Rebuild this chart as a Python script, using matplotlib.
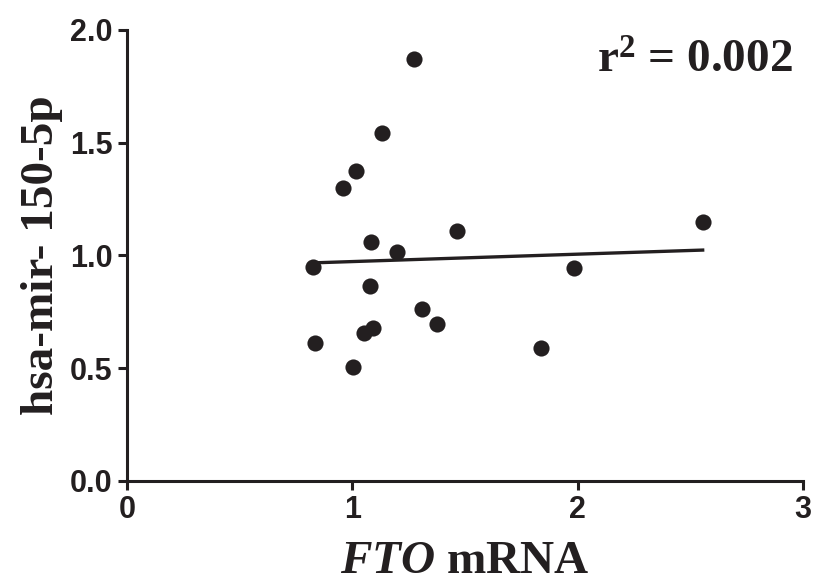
import numpy as np
import matplotlib
matplotlib.use("Agg")
import matplotlib.pyplot as plt

# FTO mRNA (x) vs hsa-mir-150-5p (y)
fto = [1.274, 1.133, 1.015, 0.957, 1.463, 1.083, 1.200, 0.827, 1.079,
       1.311, 1.376, 1.091, 1.052, 0.836, 1.004, 2.555, 1.985, 1.839]
mir150 = [1.871, 1.542, 1.372, 1.298, 1.106, 1.061, 1.014, 0.948, 0.862,
          0.763, 0.695, 0.680, 0.655, 0.613, 0.507, 1.147, 0.946, 0.590]
x_ticks = [0, 1, 2, 3]
y_ticks = [0.0, 0.5, 1.0, 1.5, 2.0]
r2_label = r"r$^{\mathbf{2}}$ = 0.002"

col = "#231f20"

plt.rcParams["mathtext.fontset"] = "custom"
plt.rcParams["mathtext.bf"] = "Liberation Serif:weight=bold"
plt.rcParams["mathtext.rm"] = "Liberation Serif:weight=bold"
plt.rcParams["mathtext.it"] = "Liberation Serif:style=italic:weight=bold"

fig = plt.figure(figsize=(8.16, 5.85), dpi=100)
ax = fig.add_axes([0.1556, 0.178, 0.8284, 0.771])

x = np.array(fto)
y = np.array(mir150)
ax.scatter(x, y, s=135, color=col, zorder=3, linewidths=0)

# linear regression line over the data range
slope, icpt = np.polyfit(x, y, 1)
xl = np.array([x.min(), x.max()])
ax.plot(xl, slope * xl + icpt, color=col, lw=2.4, zorder=2)

ax.set_xlim(0, 3)
ax.set_ylim(0, 2)
ax.set_xticks(x_ticks)
ax.set_yticks(y_ticks)
ax.set_xticklabels([str(t) for t in x_ticks])
ax.set_yticklabels(["%.1f" % t for t in y_ticks])

for s in ["top", "right"]:
    ax.spines[s].set_visible(False)
for s in ["left", "bottom"]:
    ax.spines[s].set_linewidth(2.2)
    ax.spines[s].set_color(col)
ax.tick_params(direction="out", length=6.5, width=2.2, color=col, pad=4)
for lab in ax.get_xticklabels() + ax.get_yticklabels():
    lab.set_family("Liberation Sans")
    lab.set_fontweight("bold")
    lab.set_fontsize(22)
    lab.set_color(col)

ax.set_xlabel(r"$\mathit{FTO}$ mRNA", family="Liberation Serif",
              fontweight="bold", fontsize=34, color=col, labelpad=11)
ax.set_ylabel("hsa-mir- 150-5p", family="Liberation Serif",
              fontweight="bold", fontsize=34, color=col, labelpad=5)

ax.text(0.985, 0.905, r2_label, transform=ax.transAxes, ha="right",
        va="baseline", family="Liberation Serif", fontweight="bold",
        fontsize=34, color=col)

fig.savefig("out.png", dpi=100)
